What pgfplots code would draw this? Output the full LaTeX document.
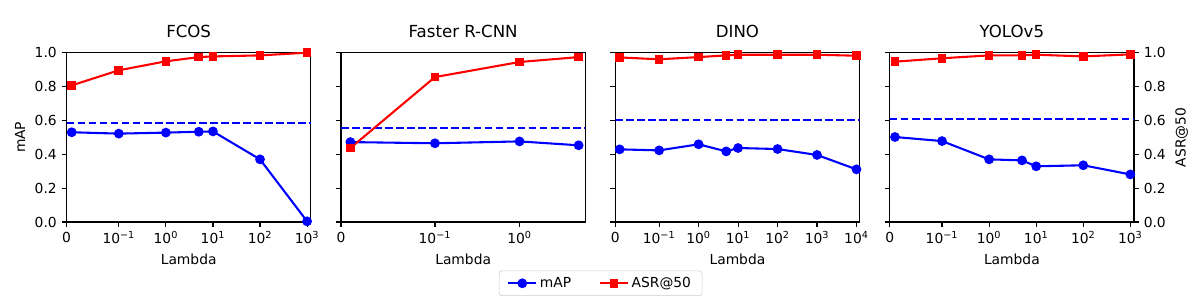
\documentclass[border=0pt]{standalone}
\usepackage{fontspec}
\setmainfont{DejaVu Sans}
\usepackage{pgfplots}
\pgfplotsset{compat=1.18}
\newcommand{\tp}[1]{10\textsuperscript{#1}}
\pgfplotsset{
  sub/.style={
    scale only axis, width=175.9bp, height=121.9bp,
    anchor=south west,
    xmin=0, ymin=0, ymax=1,
    ytick={0,0.2,0.4,0.6,0.8,1.0},
    tick align=outside, xtick pos=bottom, ytick pos=left,
    major tick length=3.5bp,
    every tick/.style={black, line width=0.8bp},
    axis line style={line width=0.8bp},
    tick label style={font=\fontsize{10}{12}\selectfont},
    label style={font=\fontsize{10}{12}\selectfont},
    title style={font=\fontsize{12}{14}\selectfont, yshift=1bp},
    xlabel={Lambda},
    /pgf/number format/assume math mode=true,
    yticklabel style={/pgf/number format/.cd, fixed, fixed zerofill, precision=1},
    legend image code/.code={\draw[mark repeat=2,mark phase=2] plot coordinates {(0bp,0bp) (10bp,0bp) (20bp,0bp)};},
  },
  mapst/.style={blue, line width=1.5bp, mark=*, mark size=3bp, mark options={solid, line width=1bp, fill=blue}},
  asrst/.style={red, line width=1.5bp, mark=square*, mark size=2.6bp, mark options={solid, line width=1bp, fill=red}},
  dashst/.style={blue, line width=1.5bp, dash pattern=on 5.55bp off 2.4bp, forget plot},
}
\begin{document}
\begin{tikzpicture}
\useasboundingbox (0,0) rectangle (864bp,216bp);
% FCOS
\begin{axis}[sub, at={(47.88bp,56.16bp)}, title={FCOS}, xmax=5.19,
  ylabel={mAP},
  xtick={0,1.1111,2.1111,3.1111,4.1111,5.1111},
  xticklabels={0,\tp{−1},\tp{0},\tp{1},\tp{2},\tp{3}},
  legend style={at={(2.186,-0.362)}, anchor=center, legend columns=2,
    draw=black!20, rounded corners=2bp, font=\fontsize{10}{12}\selectfont,
    inner xsep=6bp, inner ysep=2.5bp,
    /tikz/every even column/.append style={column sep=18bp}},
  ]
\addplot[dashst] coordinates {(0,0.585) (5.19,0.585)};
\addplot[mapst] coordinates {(0.1111,0.530) (1.1111,0.522) (2.1111,0.528) (2.8101,0.533) (3.1111,0.535) (4.1111,0.370) (5.1111,0.004)};
\addlegendentry{mAP}
\addplot[asrst] coordinates {(0.1111,0.807) (1.1111,0.896) (2.1111,0.949) (2.8101,0.974) (3.1111,0.978) (4.1111,0.984) (5.1111,1.0)};
\addlegendentry{ASR@50}
\end{axis}
% Faster R-CNN
\begin{axis}[sub, at={(245.52bp,56.16bp)}, title={Faster R-CNN}, xmax=2.889,
  yticklabels={},
  xtick={0,1.1111,2.1111},
  xticklabels={0,\tp{−1},\tp{0}},
  ]
\addplot[dashst] coordinates {(0,0.557) (2.889,0.557)};
\addplot[mapst] coordinates {(0.1111,0.472) (1.1111,0.465) (2.1111,0.476) (2.8101,0.453)};
\addplot[asrst] coordinates {(0.1111,0.437) (1.1111,0.856) (2.1111,0.945) (2.8101,0.974)};
\end{axis}
% DINO
\begin{axis}[sub, at={(443.0bp,56.16bp)}, title={DINO}, xmax=6.19,
  yticklabels={},
  xtick={0,1.1111,2.1111,3.1111,4.1111,5.1111,6.1111},
  xticklabels={0,\tp{−1},\tp{0},\tp{1},\tp{2},\tp{3},\tp{4}},
  ]
\addplot[dashst] coordinates {(0,0.600) (6.19,0.600)};
\addplot[mapst] coordinates {(0.1111,0.429) (1.1111,0.423) (2.1111,0.459) (2.8101,0.417) (3.1111,0.437) (4.1111,0.431) (5.1111,0.396) (6.1111,0.311)};
\addplot[asrst] coordinates {(0.1111,0.972) (1.1111,0.961) (2.1111,0.974) (2.8101,0.984) (3.1111,0.988) (4.1111,0.988) (5.1111,0.988) (6.1111,0.982)};
\end{axis}
% YOLOv5
\begin{axis}[sub, at={(640.6bp,56.16bp)}, title={YOLOv5}, xmax=5.19,
  ytick pos=both, yticklabel pos=right,
  ylabel={ASR@50},
  xtick={0,1.1111,2.1111,3.1111,4.1111,5.1111},
  xticklabels={0,\tp{−1},\tp{0},\tp{1},\tp{2},\tp{3}},
  ]
\addplot[dashst] coordinates {(0,0.610) (5.19,0.610)};
\addplot[mapst] coordinates {(0.1111,0.502) (1.1111,0.478) (2.1111,0.370) (2.8101,0.364) (3.1111,0.329) (4.1111,0.335) (5.1111,0.281)};
\addplot[asrst] coordinates {(0.1111,0.947) (1.1111,0.967) (2.1111,0.984) (2.8101,0.984) (3.1111,0.988) (4.1111,0.978) (5.1111,0.990)};
\end{axis}
\end{tikzpicture}
\end{document}
